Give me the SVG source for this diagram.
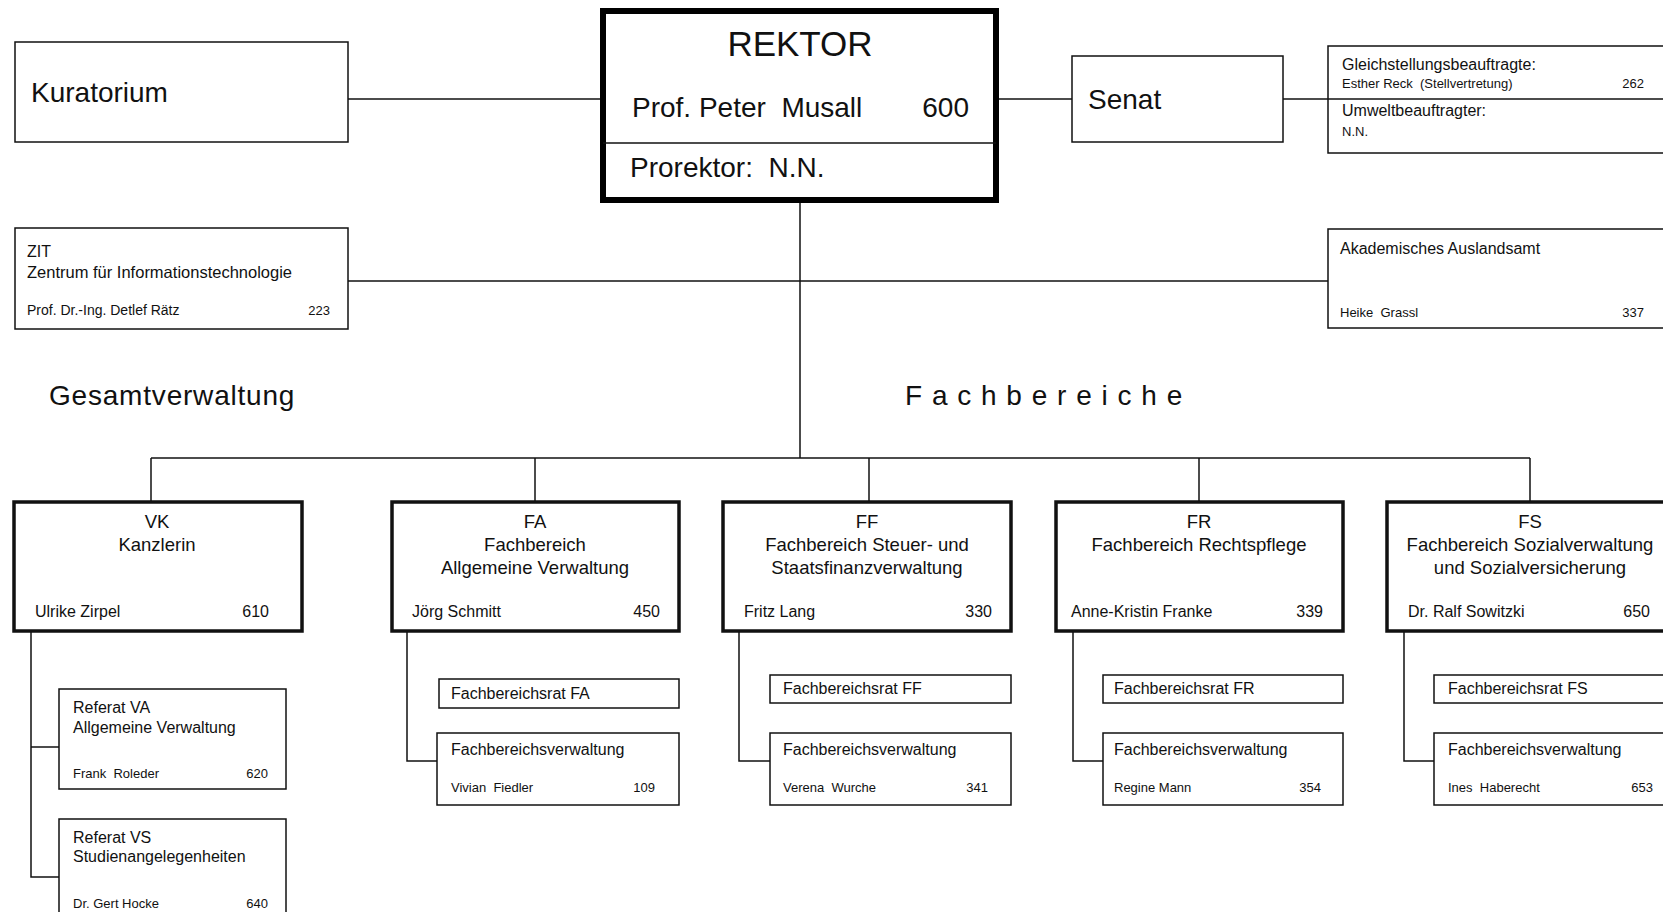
<svg xmlns="http://www.w3.org/2000/svg" width="1663" height="912" viewBox="0 0 1663 912">
<style>
text{font-family:"Liberation Sans",Arial,sans-serif;fill:#111}
.box{fill:#fff;stroke:#111;stroke-width:1.5}
.main{fill:#fff;stroke:#111;stroke-width:3.5}
.rek{fill:#fff;stroke:#000;stroke-width:6}
.ln{fill:none;stroke:#111;stroke-width:1.5}
.big{font-size:28px}
.hd{font-size:18.5px;text-anchor:middle}
.nm{font-size:16px}
.num{font-size:16px;text-anchor:end}
.s16{font-size:16px}
.s13{font-size:13px}
.n13{font-size:13px;text-anchor:end}
</style>
<rect width="1663" height="912" fill="#fff"/>
<g id="connectors">
<line class="ln" x1="348" y1="99" x2="600" y2="99"/>
<line class="ln" x1="999" y1="99" x2="1072" y2="99"/>
<line class="ln" x1="1283" y1="99" x2="1328" y2="99"/>
<line class="ln" x1="800" y1="203" x2="800" y2="458"/>
<line class="ln" x1="348" y1="281" x2="1328" y2="281"/>
<line class="ln" x1="151" y1="458" x2="1530" y2="458" stroke-width="2"/>
<line class="ln" x1="151" y1="458" x2="151" y2="501"/>
<line class="ln" x1="535" y1="458" x2="535" y2="501"/>
<line class="ln" x1="869" y1="458" x2="869" y2="501"/>
<line class="ln" x1="1199" y1="458" x2="1199" y2="501"/>
<line class="ln" x1="1530" y1="458" x2="1530" y2="501"/>
<polyline class="ln" points="31,631 31,877 59,877"/>
<line class="ln" x1="31" y1="747" x2="59" y2="747"/>
<polyline class="ln" points="407,631 407,761 437,761"/>
<polyline class="ln" points="739,631 739,761 770,761"/>
<polyline class="ln" points="1073,631 1073,761 1103,761"/>
<polyline class="ln" points="1404,631 1404,761 1434,761"/>
</g>
<g id="kuratorium">
<rect class="box" x="15" y="42" width="333" height="100"/>
<text class="big" x="31" y="102">Kuratorium</text>
</g>
<g id="rektor">
<rect class="rek" x="603" y="11" width="393" height="189"/>
<line class="ln" x1="603" y1="143" x2="996" y2="143"/>
<text x="800" y="56" font-size="35" text-anchor="middle">REKTOR</text>
<text class="big" x="632" y="117" xml:space="preserve">Prof. Peter  Musall</text>
<text class="big" x="969" y="117" text-anchor="end">600</text>
<text class="big" x="630" y="177" xml:space="preserve">Prorektor:  N.N.</text>
</g>
<g id="senat">
<rect class="box" x="1072" y="56" width="211" height="86"/>
<text class="big" x="1088" y="109">Senat</text>
</g>
<g id="beauftragte">
<rect class="box" x="1328" y="46" width="360" height="107"/>
<line class="ln" x1="1328" y1="99" x2="1663" y2="99"/>
<text class="s16" x="1342" y="70">Gleichstellungsbeauftragte:</text>
<text class="s13" x="1342" y="88" xml:space="preserve">Esther Reck  (Stellvertretung)</text>
<text class="n13" x="1644" y="88">262</text>
<text class="s16" x="1342" y="116">Umweltbeauftragter:</text>
<text class="s13" x="1342" y="136">N.N.</text>
</g>
<g id="zit">
<rect class="box" x="15" y="228" width="333" height="101"/>
<text class="s16" x="27" y="257">ZIT</text>
<text x="27" y="278" font-size="16.5">Zentrum für Informationstechnologie</text>
<text x="27" y="315" font-size="14">Prof. Dr.-Ing. Detlef Rätz</text>
<text class="n13" x="330" y="315">223</text>
</g>
<g id="auslandsamt">
<rect class="box" x="1328" y="229" width="360" height="99"/>
<text class="s16" x="1340" y="254">Akademisches Auslandsamt</text>
<text class="s13" x="1340" y="317" xml:space="preserve">Heike  Grassl</text>
<text class="n13" x="1644" y="317">337</text>
</g>
<g id="labels">
<text class="big" x="49" y="405" letter-spacing="0.8">Gesamtverwaltung</text>
<text class="big" x="905" y="405" letter-spacing="1">F a c h b e r e i c h e</text>
</g>
<g id="vk">
<rect class="main" x="14" y="502" width="288" height="129"/>
<text class="hd" x="157" y="528">VK</text>
<text class="hd" x="157" y="551">Kanzlerin</text>
<text class="nm" x="35" y="617">Ulrike Zirpel</text>
<text class="num" x="269" y="617">610</text>
</g>
<g id="referat-va">
<rect class="box" x="59" y="689" width="227" height="100"/>
<text class="s16" x="73" y="713">Referat VA</text>
<text class="s16" x="73" y="733">Allgemeine Verwaltung</text>
<text class="s13" x="73" y="778" xml:space="preserve">Frank  Roleder</text>
<text class="n13" x="268" y="778">620</text>
</g>
<g id="referat-vs">
<rect class="box" x="59" y="819" width="227" height="100"/>
<text class="s16" x="73" y="843">Referat VS</text>
<text class="s16" x="73" y="862">Studienangelegenheiten</text>
<text class="s13" x="73" y="908">Dr. Gert Hocke</text>
<text class="n13" x="268" y="908">640</text>
</g>
<g id="fa">
<rect class="main" x="392" y="502" width="287" height="129"/>
<text class="hd" x="535" y="528">FA</text>
<text class="hd" x="535" y="551">Fachbereich</text>
<text class="hd" x="535" y="574">Allgemeine Verwaltung</text>
<text class="nm" x="412" y="617">Jörg Schmitt</text>
<text class="num" x="660" y="617">450</text>
</g>
<g id="fa-rat">
<rect class="box" x="439" y="679" width="240" height="29"/>
<text class="s16" x="451" y="699">Fachbereichsrat FA</text>
</g>
<g id="fa-verw">
<rect class="box" x="437" y="733" width="242" height="72"/>
<text class="s16" x="451" y="755">Fachbereichsverwaltung</text>
<text class="s13" x="451" y="792" xml:space="preserve">Vivian  Fiedler</text>
<text class="n13" x="655" y="792">109</text>
</g>
<g id="ff">
<rect class="main" x="723" y="502" width="288" height="129"/>
<text class="hd" x="867" y="528">FF</text>
<text class="hd" x="867" y="551">Fachbereich Steuer- und</text>
<text class="hd" x="867" y="574">Staatsfinanzverwaltung</text>
<text class="nm" x="744" y="617">Fritz Lang</text>
<text class="num" x="992" y="617">330</text>
</g>
<g id="ff-rat">
<rect class="box" x="770" y="675" width="241" height="28"/>
<text class="s16" x="783" y="694">Fachbereichsrat FF</text>
</g>
<g id="ff-verw">
<rect class="box" x="770" y="733" width="241" height="72"/>
<text class="s16" x="783" y="755">Fachbereichsverwaltung</text>
<text class="s13" x="783" y="792" xml:space="preserve">Verena  Wurche</text>
<text class="n13" x="988" y="792">341</text>
</g>
<g id="fr">
<rect class="main" x="1056" y="502" width="287" height="129"/>
<text class="hd" x="1199" y="528">FR</text>
<text class="hd" x="1199" y="551">Fachbereich Rechtspflege</text>
<text class="nm" x="1071" y="617">Anne-Kristin Franke</text>
<text class="num" x="1323" y="617">339</text>
</g>
<g id="fr-rat">
<rect class="box" x="1103" y="675" width="240" height="28"/>
<text class="s16" x="1114" y="694">Fachbereichsrat FR</text>
</g>
<g id="fr-verw">
<rect class="box" x="1103" y="733" width="240" height="72"/>
<text class="s16" x="1114" y="755">Fachbereichsverwaltung</text>
<text class="s13" x="1114" y="792">Regine Mann</text>
<text class="n13" x="1321" y="792">354</text>
</g>
<g id="fs">
<rect class="main" x="1387" y="502" width="288" height="129"/>
<text class="hd" x="1530" y="528">FS</text>
<text class="hd" x="1530" y="551">Fachbereich Sozialverwaltung</text>
<text class="hd" x="1530" y="574">und Sozialversicherung</text>
<text class="nm" x="1408" y="617">Dr. Ralf Sowitzki</text>
<text class="num" x="1650" y="617">650</text>
</g>
<g id="fs-rat">
<rect class="box" x="1434" y="675" width="260" height="28"/>
<text class="s16" x="1448" y="694">Fachbereichsrat FS</text>
</g>
<g id="fs-verw">
<rect class="box" x="1434" y="733" width="260" height="72"/>
<text class="s16" x="1448" y="755">Fachbereichsverwaltung</text>
<text class="s13" x="1448" y="792" xml:space="preserve">Ines  Haberecht</text>
<text class="n13" x="1653" y="792">653</text>
</g>
</svg>
